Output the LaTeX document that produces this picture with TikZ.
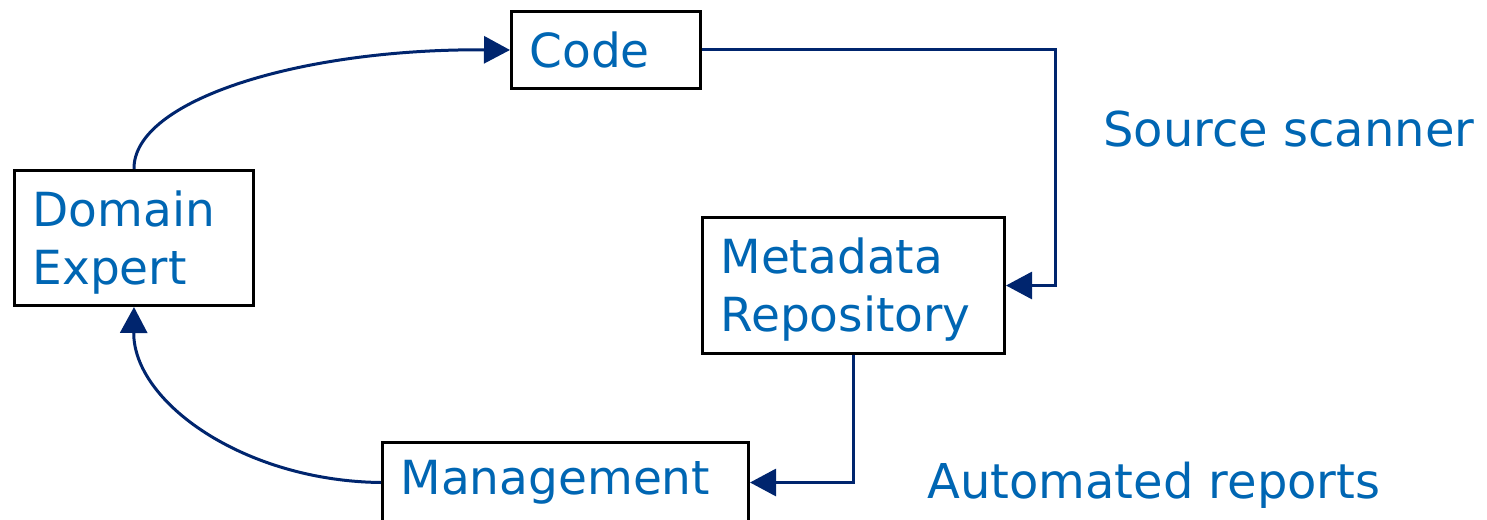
\documentclass[tikz,border=0pt]{standalone}
\usepackage{fontspec}
\setmainfont{DejaVu Sans}
\usetikzlibrary{arrows.meta}
\definecolor{txtblue}{RGB}{0,102,179}
\definecolor{lnavy}{RGB}{0,37,110}
\begin{document}
\begin{tikzpicture}[x=1pt,y=-1pt,
  box/.style={draw=black, line width=3pt, fill=white, rectangle, anchor=north west,
    inner xsep=18pt, inner ysep=0pt, align=left, text=txtblue,
    font=\fontsize{47}{58}\selectfont},
  lbl/.style={anchor=base west, text=txtblue, inner sep=0pt,
    font=\fontsize{48}{58}\selectfont},
  conn/.style={draw=lnavy, line width=3pt, -{Triangle[length=26pt,width=27pt]}}]
\useasboundingbox (0,0) rectangle (1487,519);
\node[box, text width=153pt, minimum width=189pt, minimum height=77pt] (code) at (510,10) {Code};
\node[box, text width=203pt, minimum width=239pt, minimum height=135pt, text depth=59pt] (dom) at (13,169) {Domain\\Expert};
\node[box, text width=266pt, minimum width=302pt, minimum height=136pt, text depth=59pt] (meta) at (701,216) {Metadata\\Repository};
\node[box, text width=330pt, minimum width=366pt, minimum height=80pt] (mgmt) at (381,441) {Management};
\node[lbl] (src) at (1103,146) {Source scanner};
\node[lbl] (rep) at (927,498) {Automated reports};
\draw[conn] (dom.north) .. controls (133,100) and (301,48.5) .. (code.west);
\draw[conn] (code.east) -- ++(353,0) |- (meta.east);
\draw[conn] (meta.south) |- (mgmt.east);
\draw[conn] (mgmt.west) .. controls (244,481) and (133,402) .. (dom.south);
\end{tikzpicture}
\end{document}
